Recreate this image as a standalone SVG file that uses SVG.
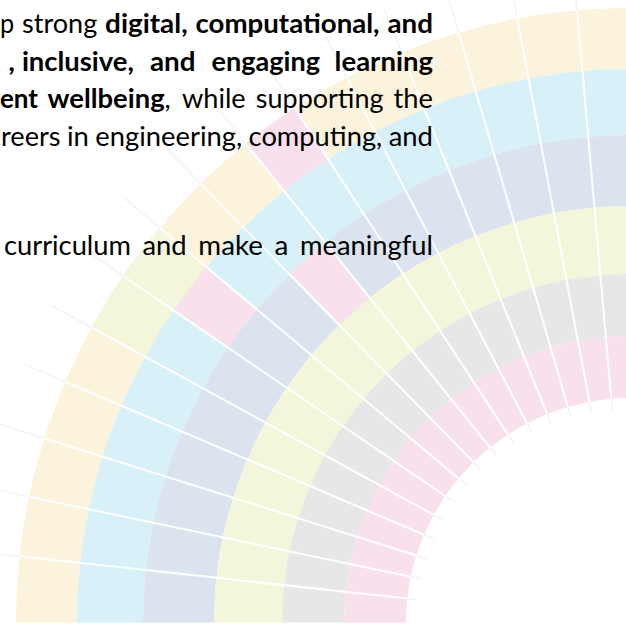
<svg xmlns="http://www.w3.org/2000/svg" width="626" height="632" viewBox="0 0 626 632">
  <style>
    .ring { fill: none; }
    .y { stroke: #FCF3DC; }
    .bl { stroke: #D8F0F8; }
    .bg { stroke: #DAE3EE; }
    .gr { stroke: #F3F6DA; }
    .lg { stroke: #E7E7E7; }
    .pk { stroke: #F8E1EC; }
    .segG { fill: #F3F6DA; }
    .segP { fill: #F8E1EC; }
    .faint line { stroke: #F5F5F5; stroke-width: 2; }
    .div line { stroke: #FFFFFF; stroke-width: 2; }
    .t { font-family: Lato, "Liberation Sans", sans-serif; font-size: 27px; fill: #000000; }
    .b { font-weight: bold; }
  </style>
  <defs>
    <clipPath id="upper">
      <rect x="0" y="0" width="626" height="622.5"/>
    </clipPath>
  </defs>
  <rect x="0" y="0" width="626" height="632" fill="#FFFFFF"/>

  <g id="fan" clip-path="url(#upper)">
    <g id="guide-lines" class="faint">
      <line x1="-30" y1="623" x2="417" y2="623" transform="rotate(6.225 631 623)"/>
      <line x1="-30" y1="623" x2="417" y2="623" transform="rotate(11.85 631 623)"/>
      <line x1="-30" y1="623" x2="417" y2="623" transform="rotate(17.475 631 623)"/>
      <line x1="-30" y1="623" x2="417" y2="623" transform="rotate(23.1 631 623)"/>
      <line x1="-30" y1="623" x2="417" y2="623" transform="rotate(28.725 631 623)"/>
      <line x1="-30" y1="623" x2="417" y2="623" transform="rotate(34.35 631 623)"/>
      <line x1="-30" y1="623" x2="417" y2="623" transform="rotate(39.975 631 623)"/>
      <line x1="-30" y1="623" x2="417" y2="623" transform="rotate(45.6 631 623)"/>
      <line x1="-30" y1="623" x2="417" y2="623" transform="rotate(51.225 631 623)"/>
      <line x1="-30" y1="623" x2="417" y2="623" transform="rotate(56.85 631 623)"/>
      <line x1="-30" y1="623" x2="417" y2="623" transform="rotate(62.475 631 623)"/>
      <line x1="-30" y1="623" x2="417" y2="623" transform="rotate(68.1 631 623)"/>
      <line x1="-30" y1="623" x2="417" y2="623" transform="rotate(73.725 631 623)"/>
      <line x1="-30" y1="623" x2="417" y2="623" transform="rotate(79.35 631 623)"/>
      <line x1="-30" y1="623" x2="417" y2="623" transform="rotate(84.975 631 623)"/>
      <line x1="-30" y1="623" x2="417" y2="623" transform="rotate(90.6 631 623)"/>
    </g>
    <g id="rings">
      <circle id="ring-1" class="ring y" cx="631" cy="623" r="584.5" stroke-width="61"/>
      <circle id="ring-2" class="ring bl" cx="631" cy="623" r="521" stroke-width="66"/>
      <circle id="ring-3" class="ring bg" cx="631" cy="623" r="452.5" stroke-width="71"/>
      <circle id="ring-4" class="ring gr" cx="631" cy="623" r="383" stroke-width="68"/>
      <circle id="ring-5" class="ring lg" cx="631" cy="623" r="318" stroke-width="62"/>
      <circle id="ring-6" class="ring pk" cx="631" cy="623" r="256" stroke-width="62"/>
    </g>
    <g id="segments">
      <path id="seg-r1-green" class="segG" d="M91.68,327.43 A615,615 0 0 1 159.71,227.89 L206.46,267.08 A554,554 0 0 0 145.18,356.75 Z"/>
      <path id="seg-r1-pink" class="segP" d="M245.85,143.54 A615,615 0 0 1 294.69,108.10 L328.05,159.17 A554,554 0 0 0 284.05,191.10 Z"/>
      <path id="seg-r2-pink" class="segP" d="M173.62,310.41 A554,554 0 0 1 206.46,267.08 L257.04,309.48 A488,488 0 0 0 228.11,347.65 Z"/>
      <path id="seg-r3-pink" class="segP" d="M289.57,274.34 A488,488 0 0 1 325.39,242.55 L369.85,297.90 A417,417 0 0 0 339.24,325.07 Z"/>
    </g>
    <g id="dividers" class="div">
      <line x1="16" y1="623" x2="406" y2="623" transform="rotate(6.225 631 623)"/>
      <line x1="16" y1="623" x2="406" y2="623" transform="rotate(11.85 631 623)"/>
      <line x1="16" y1="623" x2="406" y2="623" transform="rotate(17.475 631 623)"/>
      <line x1="16" y1="623" x2="406" y2="623" transform="rotate(23.1 631 623)"/>
      <line x1="16" y1="623" x2="406" y2="623" transform="rotate(28.725 631 623)"/>
      <line x1="16" y1="623" x2="406" y2="623" transform="rotate(34.35 631 623)"/>
      <line x1="16" y1="623" x2="406" y2="623" transform="rotate(39.975 631 623)"/>
      <line x1="16" y1="623" x2="406" y2="623" transform="rotate(45.6 631 623)"/>
      <line x1="16" y1="623" x2="406" y2="623" transform="rotate(51.225 631 623)"/>
      <line x1="16" y1="623" x2="406" y2="623" transform="rotate(56.85 631 623)"/>
      <line x1="16" y1="623" x2="406" y2="623" transform="rotate(62.475 631 623)"/>
      <line x1="16" y1="623" x2="406" y2="623" transform="rotate(68.1 631 623)"/>
      <line x1="16" y1="623" x2="406" y2="623" transform="rotate(73.725 631 623)"/>
      <line x1="16" y1="623" x2="406" y2="623" transform="rotate(79.35 631 623)"/>
      <line x1="16" y1="623" x2="406" y2="623" transform="rotate(84.975 631 623)"/>
      <line x1="16" y1="623" x2="406" y2="623" transform="rotate(90.6 631 623)"/>
    </g>
  </g>

  <g id="paragraph">
    <text id="line-1" class="t" y="33"><tspan x="0" textLength="14.2" lengthAdjust="spacingAndGlyphs">p</tspan> <tspan x="22" textLength="75.3" lengthAdjust="spacingAndGlyphs">strong</tspan> <tspan class="b" x="105.1" textLength="82.6" lengthAdjust="spacingAndGlyphs">digital,</tspan> <tspan class="b" x="195.5" textLength="184.1" lengthAdjust="spacingAndGlyphs">computational,</tspan> <tspan class="b" x="387.4" textLength="45.5" lengthAdjust="spacingAndGlyphs">and</tspan></text>
    <text id="line-2" class="t b" y="70.5"><tspan x="8.5">,</tspan> <tspan x="21.9" textLength="112" lengthAdjust="spacingAndGlyphs">inclusive,</tspan> <tspan x="150" textLength="45.5" lengthAdjust="spacingAndGlyphs">and</tspan> <tspan x="211.6" textLength="108.4" lengthAdjust="spacingAndGlyphs">engaging</tspan> <tspan x="334.6" textLength="98.4" lengthAdjust="spacingAndGlyphs">learning</tspan></text>
    <text id="line-3" class="t" y="108"><tspan class="b" x="0" textLength="38" lengthAdjust="spacingAndGlyphs">ent</tspan> <tspan class="b" x="47.5" textLength="117.1" lengthAdjust="spacingAndGlyphs">wellbeing</tspan><tspan x="164.6">,</tspan> <tspan x="182" textLength="63.7" lengthAdjust="spacingAndGlyphs">while</tspan> <tspan x="255.85" textLength="127.7" lengthAdjust="spacingAndGlyphs">supporting</tspan> <tspan x="393.6" textLength="39.4" lengthAdjust="spacingAndGlyphs">the</tspan></text>
    <text id="line-4" class="t" y="145.5"><tspan x="1" textLength="59.5" lengthAdjust="spacingAndGlyphs">reers</tspan> <tspan x="66.9" textLength="21.9" lengthAdjust="spacingAndGlyphs">in</tspan> <tspan x="95.2" textLength="147" lengthAdjust="spacingAndGlyphs">engineering,</tspan> <tspan x="248.6" textLength="133.7" lengthAdjust="spacingAndGlyphs">computing,</tspan> <tspan x="388.7" textLength="44.3" lengthAdjust="spacingAndGlyphs">and</tspan></text>
    <text id="line-5" class="t" y="255"><tspan x="4" textLength="126.9" lengthAdjust="spacingAndGlyphs">curriculum</tspan> <tspan x="142.45" textLength="44.3" lengthAdjust="spacingAndGlyphs">and</tspan> <tspan x="198.3" textLength="64.7" lengthAdjust="spacingAndGlyphs">make</tspan> <tspan x="274.55" textLength="13.9" lengthAdjust="spacingAndGlyphs">a</tspan> <tspan x="300" textLength="133" lengthAdjust="spacingAndGlyphs">meaningful</tspan></text>
  </g>
</svg>
